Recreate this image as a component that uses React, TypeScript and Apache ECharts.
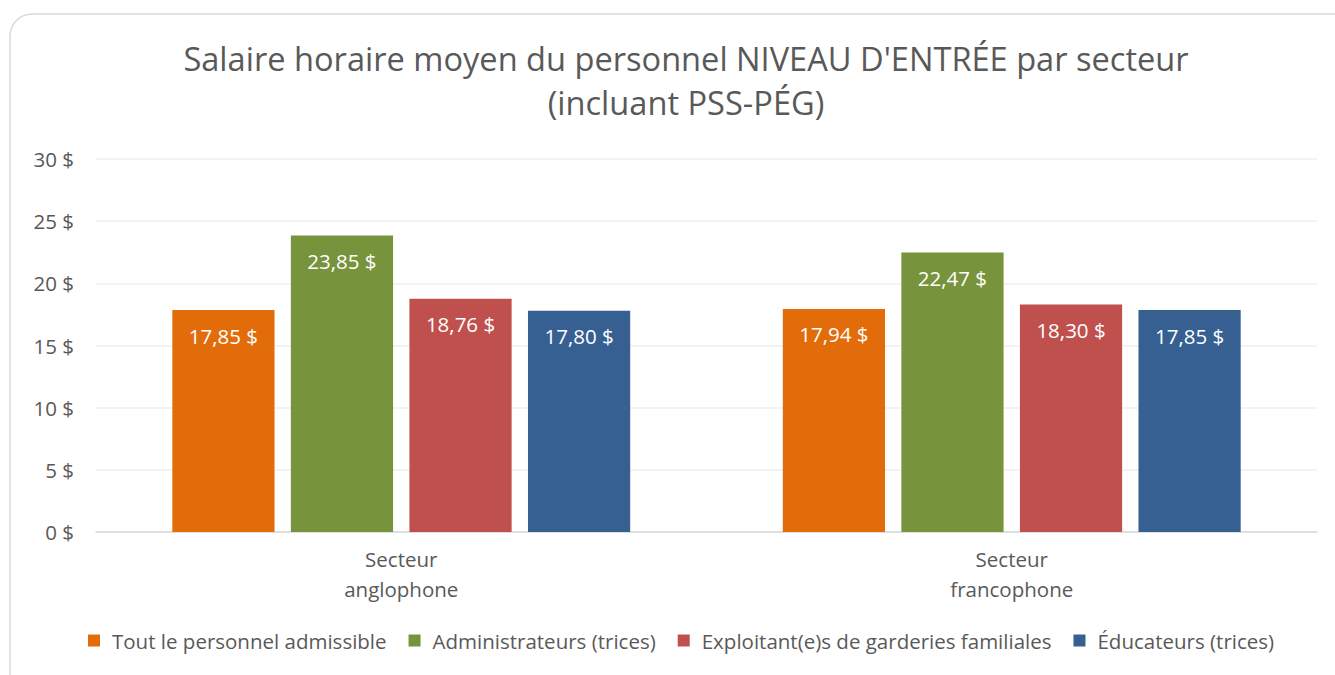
import React, { useEffect, useRef } from "react";
import * as echarts from "echarts";

const categories = ["Secteur\nanglophone", "Secteur\nfrancophone"];
const seriesNames = [
  "Tout le personnel admissible",
  "Administrateurs (trices)",
  "Exploitant(e)s de garderies familiales",
  "Éducateurs (trices)",
];
const allStaff = [17.85, 17.94];
const admins = [23.85, 22.47];
const homeCare = [18.76, 18.3];
const educators = [17.8, 17.85];
const colors = ["#E36C0A", "#77933C", "#C0504D", "#366092"];

const FONT = "'Open Sans', Lato, sans-serif";

export default function App() {
  const ref = useRef<HTMLDivElement>(null);
  useEffect(() => {
    if (!ref.current) return;
    const chart = echarts.init(ref.current, undefined, { renderer: "svg" });
    const fmt = (v: number) => v.toFixed(2).replace(".", ",") + " $";
    const data = [allStaff, admins, homeCare, educators];
    chart.setOption({
      animation: false,
      textStyle: { fontFamily: FONT },
      graphic: [
        {
          type: "rect",
          shape: { x: 10, y: 14, width: 1360, height: 700, r: 22 },
          style: { fill: "#fff", stroke: "#d9d9d9", lineWidth: 1.5 },
          z: -10,
          silent: true,
        },
      ],
      title: {
        text: "Salaire horaire moyen du personnel NIVEAU D'ENTRÉE par secteur\n(incluant PSS-PÉG)",
        left: 681,
        textAlign: "center",
        top: 31,
        textStyle: {
          fontFamily: FONT,
          fontSize: 32.6,
          fontWeight: "normal",
          color: "#595959",
          lineHeight: 44,
        },
      },
      legend: {
        bottom: 19,
        left: 83,
        itemWidth: 12,
        itemHeight: 12,
        itemGap: 22,
        icon: "rect",
        textStyle: { fontFamily: FONT, fontSize: 20.5, color: "#595959", padding: [0, 0, 0, 7] },
        data: seriesNames,
      },
      grid: { left: 96, right: 18, top: 159, bottom: 143 },
      xAxis: {
        type: "category",
        data: categories,
        axisLine: { lineStyle: { color: "#d9d9d9", width: 1.5 } },
        axisTick: { show: false },
        axisLabel: {
          fontFamily: FONT,
          fontSize: 20.5,
          color: "#595959",
          lineHeight: 30,
          margin: 12,
        },
      },
      yAxis: {
        type: "value",
        min: 0,
        max: 30,
        interval: 5,
        axisLine: { show: false },
        axisTick: { show: false },
        splitLine: { lineStyle: { color: "#efefef", width: 1.5 } },
        axisLabel: {
          fontFamily: FONT,
          fontSize: 20.5,
          color: "#595959",
          margin: 22,
          formatter: (v: number) => v + " $",
        },
      },
      series: seriesNames.map((name, i) => ({
        name,
        type: "bar",
        data: data[i],
        barCategoryGap: "25%",
        barGap: "16%",
        itemStyle: { color: colors[i] },
        label: {
          show: true,
          position: "insideTop",
          distance: 15,
          color: "#fff",
          fontFamily: FONT,
          fontSize: 20.5,
          formatter: (p: any) => fmt(p.value),
        },
      })),
    });
    return () => chart.dispose();
  }, []);
  return (
    <div
      ref={ref}
      style={{ position: "fixed", left: 0, top: 0, width: 1335, height: 675, background: "#fff" }}
    />
  );
}
